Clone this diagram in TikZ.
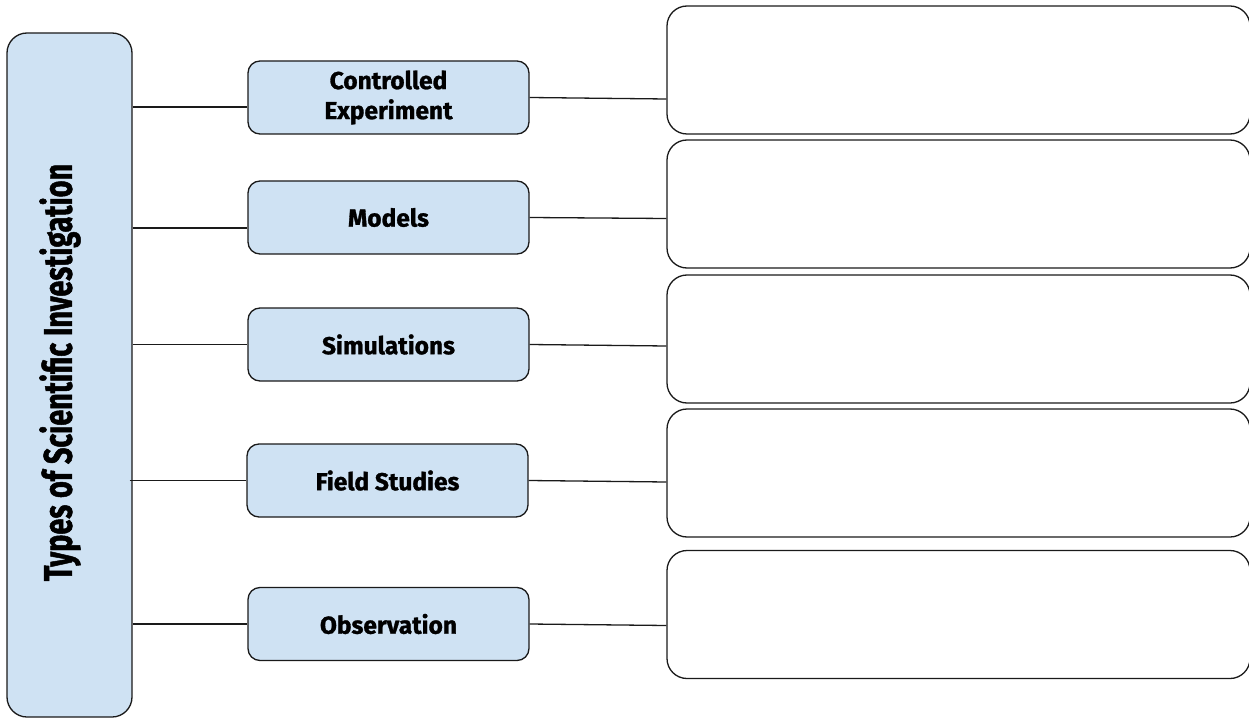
\documentclass[tikz,border=0pt]{standalone}
\usepackage{fontspec}
\setmainfont{Fira Sans}[BoldFeatures={FakeBold=1.2}]
\newfontfamily\titlefont{Fira Sans}[FakeStretch=0.72, BoldFeatures={FakeBold=1.2}]
\definecolor{boxblue}{HTML}{CFE2F3}
\definecolor{edge}{HTML}{1A1A1A}
\begin{document}
\begin{tikzpicture}[x=1pt,y=-1pt,
  bluebox/.style={draw=edge, line width=1.3pt, fill=boxblue, rounded corners=12pt,
    minimum width=281pt, minimum height=73pt, inner sep=0pt, align=center,
    font=\fontsize{24.5}{30}\selectfont\bfseries},
  answerbox/.style={draw=edge, line width=1.3pt, fill=white, rounded corners=20pt,
    minimum width=583pt, minimum height=128pt, inner sep=0pt},
  link/.style={draw=edge, line width=1.3pt}]
\useasboundingbox (0,0) rectangle (1249,719);
% left title box
\node[draw=edge, line width=1.3pt, fill=boxblue, rounded corners=20pt,
  minimum width=125pt, minimum height=684pt, inner sep=0pt] (L) at (69.5,375) {};
\node[rotate=90, inner sep=0pt, font=\titlefont\bfseries\fontsize{40}{44}\selectfont]
  (title) at ([xshift=-9.5pt,yshift=2.5pt]L.center) {Types of Scientific Investigation};
% middle boxes
\node[bluebox] (m1) at (388.5,97.5) {Controlled\\Experiment};
\node[bluebox] (m2) at (388.5,217.5) {Models};
\node[bluebox] (m3) at (388.5,344.5) {Simulations};
\node[bluebox] (m4) at (387.5,480.5) {Field Studies};
\node[bluebox] (m5) at (388.5,624) {Observation};
% right boxes
\node[answerbox] (r1) at (958.5,70) {};
\node[answerbox] (r2) at (958.5,204) {};
\node[answerbox] (r3) at (958.5,339) {};
\node[answerbox] (r4) at (958.5,473) {};
\node[answerbox] (r5) at (958.5,614.5) {};
% connectors left -> middle
\draw[link] ([yshift=-9.5pt]m1.west -| L.east) -- ([yshift=-9.5pt]m1.west);
\draw[link] ([yshift=-10.5pt]m2.west -| L.east) -- ([yshift=-10.5pt]m2.west);
\draw[link] (m3.west -| L.east) -- (m3.west);
\draw[link] ([xshift=-3pt]m4.west -| L.east) -- (m4.west);
\draw[link] (m5.west -| L.east) -- (m5.west);
% connectors middle -> right
\draw[link] (m1.east) -- ([yshift=-1.5pt]m1.east -| r1.west);
\draw[link] (m2.east) -- ([yshift=-1pt]m2.east -| r2.west);
\draw[link] (m3.east) -- ([yshift=-1.5pt]m3.east -| r3.west);
\draw[link] (m4.east) -- ([yshift=-1.5pt]m4.east -| r4.west);
\draw[link] (m5.east) -- ([yshift=-1.5pt]m5.east -| r5.west);
\end{tikzpicture}
\end{document}
